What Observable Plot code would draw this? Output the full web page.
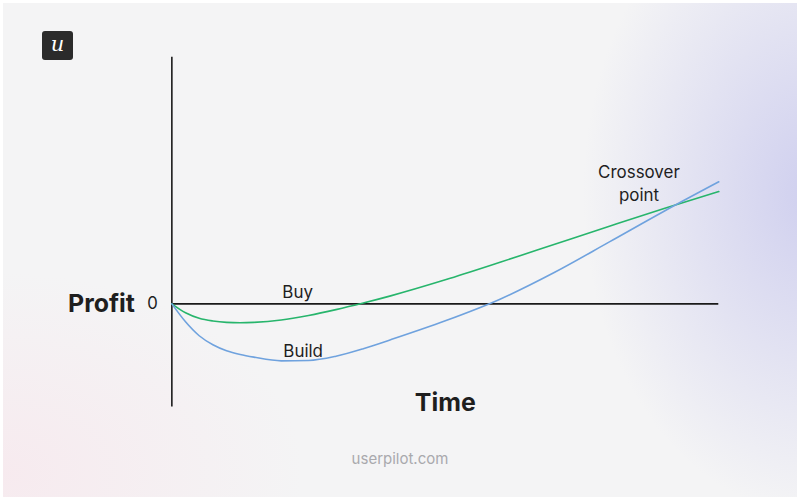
<!DOCTYPE html>
<html>
<head>
<meta charset="utf-8">
<script src="https://cdn.jsdelivr.net/npm/d3@7"></script>
<script src="https://cdn.jsdelivr.net/npm/@observablehq/plot@0.6"></script>
<style>
  html, body { margin: 0; padding: 0; width: 800px; height: 500px; overflow: hidden; background: #ffffff; }
  #card {
    position: absolute; left: 3px; top: 3px; width: 794px; height: 494px;
    background:
      radial-gradient(ellipse 230px 320px at 810px 190px, rgba(203,203,238,0.9), rgba(203,203,238,0) 100%),
      radial-gradient(ellipse 300px 200px at 0px 470px, rgba(248,230,236,0.7), rgba(248,230,236,0) 100%),
      #f4f4f5;
    font-family: Inter, "Noto Sans", sans-serif;
  }
  #logo {
    position: absolute; left: 39px; top: 28px; width: 31px; height: 29px;
    background: #2b2b2b; border-radius: 3px; color: #fff;
    font-family: "DejaVu Serif", "Liberation Serif", serif; font-style: italic;
    font-size: 21px; line-height: 26px; text-align: center;
  }
  #site {
    position: absolute; left: 0; width: 794px; top: 446px; text-align: center;
    color: #a9a9ad; font-size: 15px; font-family: Inter, sans-serif;
  }
  #chart { position: absolute; left: -3px; top: -3px; }
</style>
</head>
<body>
<div id="card">
  <div id="chart"></div>
  <div id="logo">u</div>
  <div id="site">userpilot.com</div>
</div>
<script>
// Time (arbitrary units) and profit
const time  = [0, 0.25, 0.5, 0.75, 1, 1.25, 1.5, 2, 2.5, 3, 3.5, 4, 5, 6, 7, 8, 9, 10];
const buy   = [0, -0.9, -1.45, -1.72, -1.86, -1.9, -1.86, -1.62, -1.16, -0.58, 0.08, 0.8, 2.41, 4.17, 5.98, 7.79, 9.57, 11.27];
const build = [0, -1.8, -3.2, -4.1, -4.7, -5.08, -5.35, -5.72, -5.68, -5.25, -4.5, -3.6, -1.7, 0.47, 3.17, 6.22, 9.3, 12.25];
const seriesNames = ["Buy", "Build"];
const yTicks = [0];
const axisLabels = {y: "Profit", x: "Time"};
const annotations = [
  {text: "Buy", x: 2.3, y: 1.35},
  {text: "Build", x: 2.4, y: -4.55},
  {text: "Crossover\npoint", x: 8.54, y: 12.25}
];

const rows = [];
time.forEach((t, i) => {
  rows.push({series: seriesNames[0], time: t, profit: buy[i]});
  rows.push({series: seriesNames[1], time: t, profit: build[i]});
});

const xDomain = [0, 10];
const yDomain = [-10.35, 24.75];

const chart = Plot.plot({
  width: 800,
  height: 500,
  marginLeft: 172,
  marginRight: 79,
  marginTop: 57,
  marginBottom: 92,
  style: {background: "transparent", fontFamily: "Inter, sans-serif", color: "#1e1e1e", fontSize: "17px"},
  x: {domain: xDomain, axis: null},
  y: {domain: yDomain, ticks: yTicks, tickSize: 0, tickPadding: 14, label: null, tickFormat: d => String(d)},
  color: {domain: seriesNames, range: ["#27b56c", "#6fa2de"]},
  marks: [
    Plot.ruleX([xDomain[0]], {y1: yDomain[0], y2: yDomain[1], stroke: "#1a1a1a", strokeWidth: 1.6}),
    Plot.ruleY([0], {x1: xDomain[0], x2: xDomain[1], stroke: "#1a1a1a", strokeWidth: 1.6}),
    Plot.line(rows, {x: "time", y: "profit", z: "series", stroke: "series", curve: "monotone-x", strokeWidth: 1.6}),
    Plot.text(annotations, {x: "x", y: "y", text: "text", fontSize: 17, fill: "#1e1e1e", lineHeight: 1.41}),
    Plot.text([axisLabels.y], {x: () => xDomain[0], y: () => 0, text: d => d, textAnchor: "end", dx: -37, fontSize: 25, fontWeight: "bold", fill: "#1e1e1e"}),
    Plot.text([axisLabels.x], {x: () => 5, y: () => -9.95, text: d => d, fontSize: 25, fontWeight: "bold", fill: "#1e1e1e"})
  ]
});
document.getElementById("chart").appendChild(chart);
</script>
</body>
</html>
